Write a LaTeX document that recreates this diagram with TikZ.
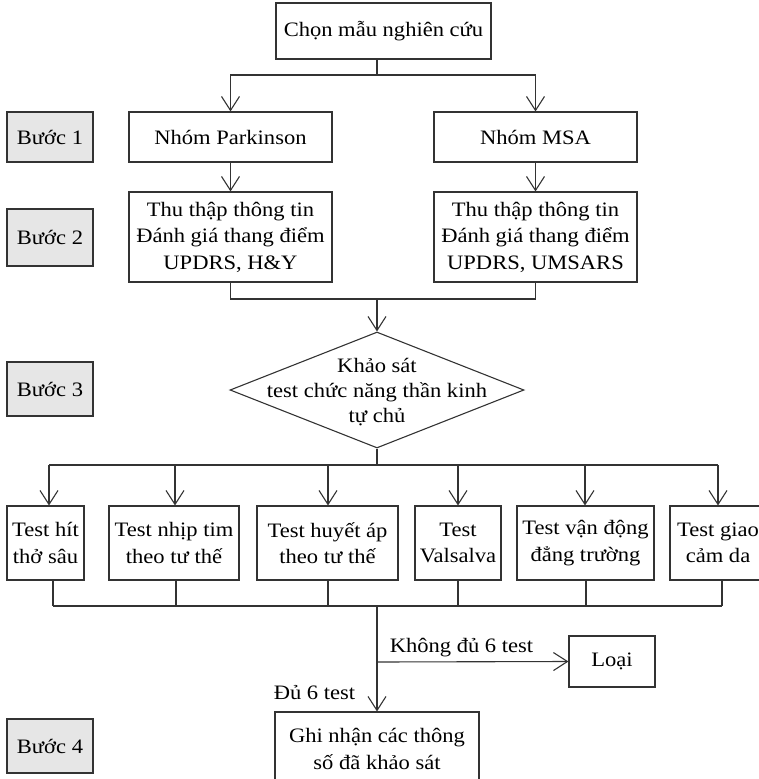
\documentclass[tikz,border=0pt]{standalone}
\usepackage{fontspec}
\setmainfont[FakeStretch=1.1]{Liberation Serif}
\usetikzlibrary{shapes.geometric,arrows.meta}
\definecolor{ln}{HTML}{333333}
\definecolor{stepfill}{HTML}{E6E6E6}
\begin{document}
\begin{tikzpicture}[x=1pt,y=-1pt,
  every node/.append style={font=\fontsize{20.5}{26.5}\selectfont},
  box/.style={draw=ln, line width=1.1pt, align=center, inner sep=0pt, fill=white},
  stepbox/.style={box, fill=stepfill, minimum width=86pt},
  conn/.style={draw=ln, line width=1.1pt},
  arr/.style={conn, -{Straight Barb[length=14pt,width=18pt,line width=1.1pt]}},
  lbl/.style={inner sep=0pt}
]
\clip (0,0) rectangle (759,779);

% step labels
\node[stepbox, minimum height=50pt] (s1) at (50,137) {Bước 1};
\node[stepbox, minimum height=57pt] (s2) at (50,237.5) {Bước 2};
\node[stepbox, minimum height=54pt] (s3) at (50,389) {Bước 3};
\node[stepbox, minimum height=54pt] (s4) at (50,746) {Bước 4};

% main boxes
\node[box, minimum width=215pt, minimum height=56pt] (top) at (383.5,31) {Chọn mẫu nghiên cứu};
\node[box, minimum width=203pt, minimum height=50pt] (p1) at (230.5,137) {Nhóm Parkinson};
\node[box, minimum width=203pt, minimum height=50pt] (m1) at (535.5,137) {Nhóm MSA};
\node[box, minimum width=203pt, minimum height=90pt] (p2) at (230.5,237) {Thu thập thông tin\\Đánh giá thang điểm\\UPDRS, H\&Y};
\node[box, minimum width=203pt, minimum height=90pt] (m2) at (535.5,237) {Thu thập thông tin\\Đánh giá thang điểm\\UPDRS, UMSARS};

\node[draw=ln, line width=1.1pt, shape=diamond, aspect=2.534, minimum width=294pt, minimum height=116pt, inner sep=0pt] (dia) at (377,390) {};
\node[align=center, inner sep=0pt, font=\fontsize{20.5}{25}\selectfont] (diatext) at (377,392) {Khảo sát\\test chức năng thần kinh\\tự chủ};

% test boxes
\node[box, minimum width=77pt, minimum height=74pt] (b1) at (45.5,543) {Test hít\\thở sâu};
\node[box, minimum width=130pt, minimum height=74pt] (b2) at (174,543) {Test nhịp tim\\theo tư thế};
\node[box, minimum width=141pt, minimum height=74pt] (b3) at (327.5,543) {Test huyết áp\\theo tư thế};
\node[box, minimum width=86pt, minimum height=74pt] (b4) at (458,543) {Test\\Valsalva};
\node[box, minimum width=137pt, minimum height=74pt] (b5) at (585.5,543) {Test vận động\\đẳng trường};
\node[box, minimum width=96pt, minimum height=74pt] (b6) at (718,543) {Test giao\\cảm da};

\node[box, minimum width=86pt, minimum height=51pt] (loai) at (612,661.5) {Loại};
\node[box, minimum width=204pt, minimum height=74pt] (ghi) at (377,749) {Ghi nhận các thông\\số đã khảo sát};

% junction coordinates
\coordinate (j1) at (377,75);
\coordinate (j2) at (377,299);
\coordinate (j3) at (377,465);
\coordinate (j4) at (377,606);
\coordinate (fork) at (377,662);
\coordinate (a1) at (49,465);
\coordinate (a2) at (175,465);
\coordinate (a3) at (328,465);
\coordinate (a4) at (458,465);
\coordinate (a5) at (585,465);
\coordinate (a6) at (718,465);
\coordinate (c1) at (53,606);
\coordinate (c2) at (176,606);
\coordinate (c3) at (328,606);
\coordinate (c4) at (458,606);
\coordinate (c5) at (586,606);
\coordinate (c6) at (722,606);

% connectors
\draw[conn] (top.south -| j1) -- (j1);
\draw[arr] (j1) -| (p1.north);
\draw[arr] (j1) -| (m1.north);
\draw[arr] (p1) -- (p2);
\draw[arr] (m1) -- (m2);
\draw[conn] (p2.south) |- (j2);
\draw[conn] (m2.south) |- (j2);
\draw[arr] (j2) -- (dia.north);
\draw[conn] (dia.south) -- (j3);
\draw[conn] (a1) -- (a6);
\foreach \i in {1,...,6} {
  \draw[arr] (a\i) -- (a\i |- b\i.north);
  \draw[conn] (c\i |- b\i.south) -- (c\i);
}
\draw[conn] (c1) -- (c6);
\draw[conn] (j4) -- (fork);
\draw[arr] (fork) -- (loai.west);
\draw[arr] (fork) -- (ghi.north);

\node[lbl] (khong) at (461.5,648) {Không đủ 6 test};
\node[lbl] (du) at (314.5,693) {Đủ 6 test};
\end{tikzpicture}
\end{document}
